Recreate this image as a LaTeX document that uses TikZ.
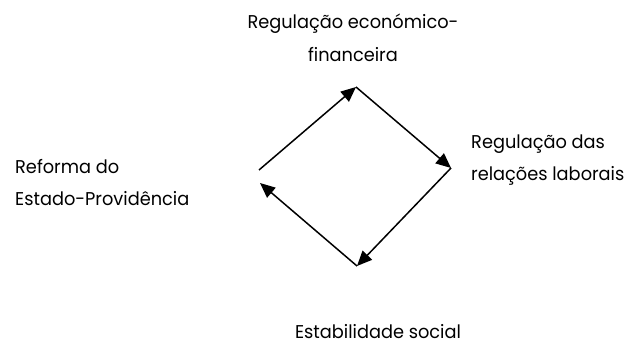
\documentclass[tikz,border=0pt]{standalone}
\usepackage{fontspec}
\setmainfont{Poppins}[FakeStretch=0.96]
\usetikzlibrary{arrows.meta}

\tikzset{
  labeltext/.style={inner sep=0pt, font=\fontsize{18.5}{32.5}\selectfont},
  cyclearrow/.style={line width=1.5pt, -{Triangle[length=15pt,width=13pt]}}
}

\begin{document}
\begin{tikzpicture}[x=1pt,y=1pt]
        \useasboundingbox (0,0) rectangle (626,342);

        % labels (base = last line)
        \node[labeltext, align=center, anchor=base] (econ) at (353,280.5) {Regulação económico-\\financeira};
        \node[labeltext, align=left, anchor=base west] (laboral) at (471,161.3) {Regulação das\\relações laborais};
        \node[labeltext, anchor=base] (social) at (378,3.5) {Estabilidade social};
        \node[labeltext, align=left, anchor=base west] (reforma) at (15,136) {Reforma do\\Estado-Providência};

        % corners of the cycle
        \coordinate (start) at (259,172);
        \coordinate (top) at (356,255);
        \coordinate (right) at (451,174);
        \coordinate (bottom) at (357,76);
        \coordinate (end) at (260,159);

        \draw[cyclearrow] (start) -- (top);
        \draw[cyclearrow] (top) -- (right);
        \draw[cyclearrow] (right) -- (bottom);
        \draw[cyclearrow] (bottom) -- (end);
    \end{tikzpicture}
\end{document}
